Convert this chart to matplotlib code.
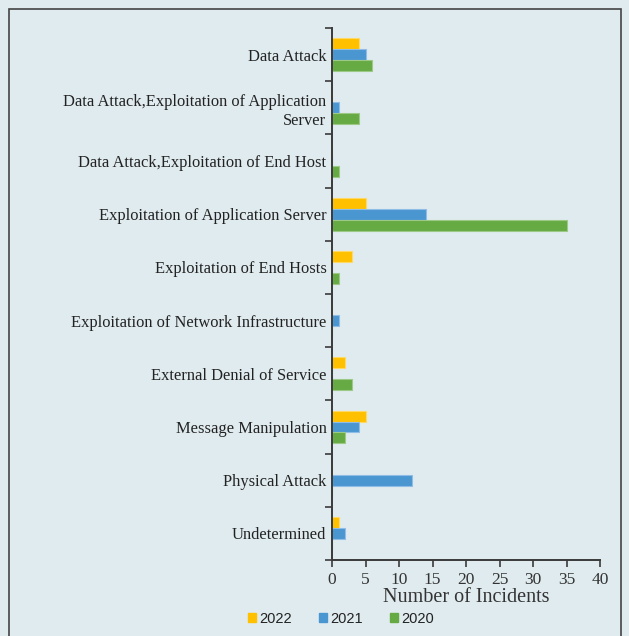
import matplotlib
matplotlib.use("Agg")
import matplotlib.pyplot as plt
from matplotlib.patches import Rectangle, Patch
import numpy as np

categories = [
    "Data Attack",
    "Data Attack,Exploitation of Application\nServer",
    "Data Attack,Exploitation of End Host",
    "Exploitation of Application Server",
    "Exploitation of End Hosts",
    "Exploitation of Network Infrastructure",
    "External Denial of Service",
    "Message Manipulation",
    "Physical Attack",
    "Undetermined",
]
v2022 = [4, 0, 0, 5, 3, 0, 2, 5, 0, 1]
v2021 = [5, 1, 0, 14, 0, 1, 0, 4, 12, 2]
v2020 = [6, 4, 1, 35, 1, 0, 3, 2, 0, 0]
xticks = [0, 5, 10, 15, 20, 25, 30, 35, 40]

bg = "#e0ebef"
c2022, c2021, c2020 = "#ffc000", "#4a96d1", "#66aa44"
axc = "#3a3a3a"

fig = plt.figure(figsize=(6.29, 6.36), dpi=100, facecolor=bg)
fig.patches.append(Rectangle((9/629, -0.05), (621-9)/629, 1 - 9/636 + 0.05,
                             transform=fig.transFigure, fill=False,
                             edgecolor="#444444", linewidth=1.2))
ax = fig.add_axes([332/629, 76/636, 268/629, 532/636])
ax.set_facecolor(bg)

n = len(categories)
y = np.arange(n)
h = 0.205
kw = dict(height=h, linewidth=0.8)
ax.barh(y - h, v2022, color=c2022, edgecolor="#ffd966", label="2022", **kw)
ax.barh(y, v2021, color=c2021, edgecolor="#8fbde5", label="2021", **kw)
ax.barh(y + h, v2020, color=c2020, edgecolor="#9cc985", label="2020", **kw)

ax.set_ylim(n - 0.5, -0.5)
ax.set_xlim(0, 40)
ax.set_xticks(xticks)
ax.set_xticklabels([str(t) for t in xticks], fontfamily="Liberation Serif",
                   fontsize=12.5, color="#333333")
ax.set_yticks(np.arange(-0.5, n, 1.0))
ax.set_yticklabels([])
ax.set_yticks(y, minor=True)
ax.set_yticklabels(categories, minor=True, fontfamily="Liberation Serif",
                   fontsize=11.9, color="#222222", ha="right",
                   multialignment="right", linespacing=1.25)
ax.tick_params(axis="y", which="minor", length=0, pad=4)
ax.tick_params(axis="y", which="major", length=5, width=1.2, color=axc, direction="out")
ax.tick_params(axis="x", length=5, width=1.2, color=axc, direction="out", pad=4)
for s in ["top", "right"]:
    ax.spines[s].set_visible(False)
for s in ["left", "bottom"]:
    ax.spines[s].set_color(axc)
    ax.spines[s].set_linewidth(1.4)
ax.set_xlabel("Number of Incidents", fontfamily="Liberation Serif",
              fontsize=14.5, color="#333333", labelpad=0)

handles = [Patch(color=c2022, label="2022"), Patch(color=c2021, label="2021"),
           Patch(color=c2020, label="2020")]
leg = fig.legend(handles=handles, loc="center", bbox_to_anchor=(341/629, 1 - 619/636),
                 ncol=3, frameon=False, prop={"family": "Liberation Sans", "size": 10.5},
                 handlelength=0.55, handleheight=0.55, handletextpad=0.25,
                 columnspacing=1.85)
for t in leg.get_texts():
    t.set_color("#222222")

fig.savefig("out.png", dpi=100, facecolor=bg)
